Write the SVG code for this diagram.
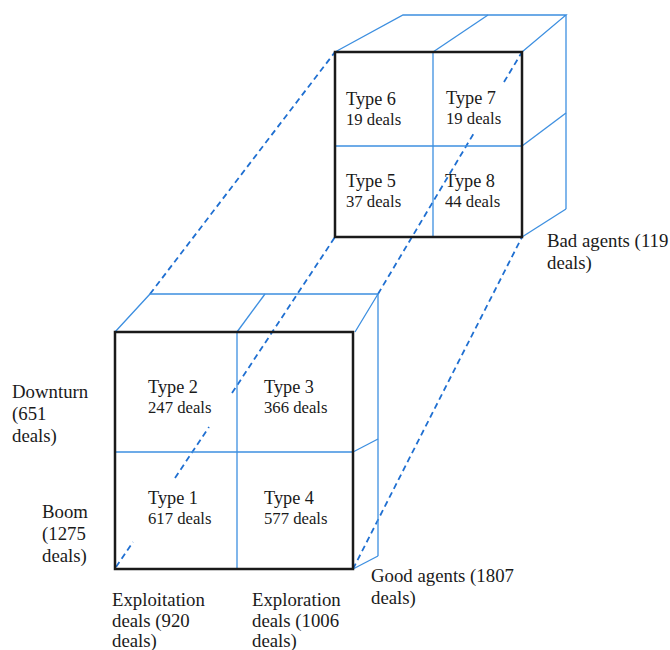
<svg xmlns="http://www.w3.org/2000/svg" width="670" height="650" viewBox="0 0 670 650">
<style>
.edge{stroke:#3d8fe0;stroke-width:1.3;fill:none}
.dash{stroke:#1f6fd1;stroke-width:1.8;fill:none;stroke-dasharray:6 4}
.frame{stroke:#1a1a1a;stroke-width:2.5;fill:none}
.txt text{fill:#1a1a1a}
.t{font-size:18.3px}
.d{font-size:16.7px}
.l{font-size:18.8px}
</style>
<rect width="670" height="650" fill="#ffffff"/>
<g id="connectors">
<line class="dash" x1="150" y1="294" x2="335" y2="52"/>
<line class="dash" x1="116" y1="567" x2="133" y2="542"/>
<line class="dash" x1="175" y1="478" x2="209" y2="427"/>
<line class="dash" x1="232" y1="393" x2="335" y2="237"/>
<line class="dash" x1="378" y1="294" x2="474" y2="133"/>
<line class="dash" x1="504" y1="82" x2="522" y2="52"/>
<line class="dash" x1="353" y1="569" x2="522" y2="237"/>
</g>
<g id="lower-cube">
<polyline class="edge" points="115,332 150,294 378,294 355,332"/>
<line class="edge" x1="237" y1="332" x2="265" y2="294"/>
<line class="edge" x1="378" y1="294" x2="378" y2="556"/>
<line class="edge" x1="353" y1="452" x2="378" y2="439"/>
<line class="edge" x1="353" y1="569" x2="378" y2="556"/>
<line class="edge" x1="237" y1="332" x2="237" y2="569"/>
<line class="edge" x1="115" y1="452" x2="353" y2="452"/>
<rect class="frame" x="115" y="332" width="238" height="237"/>
</g>
<g id="upper-cube">
<polyline class="edge" points="335,52 403,15 566,15 522,52"/>
<line class="edge" x1="433" y1="52" x2="488" y2="15"/>
<line class="edge" x1="566" y1="15" x2="566" y2="209"/>
<line class="edge" x1="522" y1="146" x2="566" y2="113"/>
<line class="edge" x1="522" y1="237" x2="566" y2="209"/>
<line class="edge" x1="433" y1="52" x2="433" y2="237"/>
<line class="edge" x1="335" y1="146" x2="522" y2="146"/>
<rect class="frame" x="335" y="52" width="187" height="185"/>
</g>
<g class="txt" font-family="'Liberation Serif', 'DejaVu Serif', serif">
<g id="type2"><text class="t" x="148" y="393">Type 2</text><text class="d" x="148" y="413">247 deals</text></g>
<g id="type3"><text class="t" x="264" y="393">Type 3</text><text class="d" x="264" y="413">366 deals</text></g>
<g id="type1"><text class="t" x="148" y="504">Type 1</text><text class="d" x="148" y="524">617 deals</text></g>
<g id="type4"><text class="t" x="264" y="504">Type 4</text><text class="d" x="264" y="524">577 deals</text></g>
<g id="type6"><text class="t" x="346" y="105">Type 6</text><text class="d" x="346" y="125">19 deals</text></g>
<g id="type7"><text class="t" x="446" y="104">Type 7</text><text class="d" x="446" y="124">19 deals</text></g>
<g id="type5"><text class="t" x="346" y="187">Type 5</text><text class="d" x="346" y="207">37 deals</text></g>
<g id="type8"><text class="t" x="445" y="187">Type 8</text><text class="d" x="445" y="207">44 deals</text></g>
<g id="labels">
<text class="l" x="12" y="398">Downturn</text>
<text class="l" x="12" y="420">(651</text>
<text class="l" x="12" y="442">deals)</text>
<text class="l" x="42" y="518">Boom</text>
<text class="l" x="42" y="540">(1275</text>
<text class="l" x="42" y="562">deals)</text>
<text class="l" x="112" y="606">Exploitation</text>
<text class="l" x="112" y="627">deals (920</text>
<text class="l" x="112" y="647">deals)</text>
<text class="l" x="252" y="606">Exploration</text>
<text class="l" x="252" y="627">deals (1006</text>
<text class="l" x="252" y="647">deals)</text>
<text class="l" x="371" y="582">Good agents (1807</text>
<text class="l" x="371" y="604">deals)</text>
<text class="l" x="547" y="247">Bad agents (119</text>
<text class="l" x="547" y="269">deals)</text>
</g>
</g>
</svg>
